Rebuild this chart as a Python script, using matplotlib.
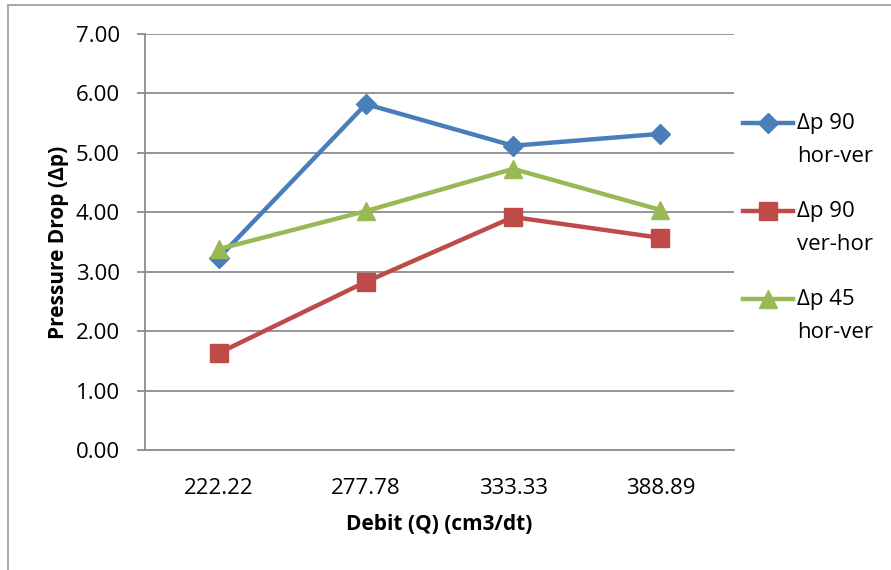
import matplotlib
matplotlib.use("Agg")
import matplotlib.pyplot as plt
from matplotlib.patches import Rectangle
from matplotlib.lines import Line2D

plt.rcParams['font.family'] = ['Open Sans', 'DejaVu Sans']

categories = ["222.22", "277.78", "333.33", "388.89"]
dp90_hor_ver = [3.23, 5.82, 5.12, 5.32]
dp90_ver_hor = [1.63, 2.83, 3.92, 3.57]
dp45_hor_ver = [3.38, 4.02, 4.73, 4.04]
series_labels = [("Δp 90", "hor-ver"), ("Δp 90", "ver-hor"), ("Δp 45", "hor-ver")]
y_ticks = [0, 1, 2, 3, 4, 5, 6, 7]
x_title = "Debit (Q) (cm3/dt)"
y_title = "Pressure Drop (Δp)"

W, H = 891, 570
fig = plt.figure(figsize=(W / 100, H / 100), dpi=100)
ax = fig.add_axes([145 / W, (H - 450) / H, (734 - 145) / W, (450 - 34) / H])

x = list(range(len(categories)))
blue, red, green = "#4A7EBB", "#BE4B48", "#98B954"
styles = [(blue, "D", 10.5), (red, "s", 13), (green, "^", 13)]
series = [dp90_hor_ver, dp90_ver_hor, dp45_hor_ver]
for vals, (c, m, ms) in zip(series, styles):
    ax.plot(x, vals, color=c, lw=3.2, marker=m, ms=ms, mec=c, mfc=c, zorder=3)

ax.set_xlim(-0.5, len(categories) - 0.5)
ax.set_ylim(0, 7)
ax.set_yticks(y_ticks)
ax.set_yticklabels([f"{v:.2f}" for v in y_ticks])
ax.set_xticks(x)
ax.set_xticklabels(categories)

grid_c = "#8C8C8C"
ax.grid(axis="y", color=grid_c, lw=1.3)
ax.set_axisbelow(True)
for s in ["top", "right"]:
    ax.spines[s].set_visible(False)
for s in ["left", "bottom"]:
    ax.spines[s].set_color(grid_c)
    ax.spines[s].set_linewidth(1.3)
ax.tick_params(axis="y", length=6, width=1.3, color=grid_c, labelsize=16, pad=12)
ax.tick_params(axis="x", length=0, labelsize=16, pad=20)

ax.set_xlabel(x_title, fontsize=15, fontweight="bold", labelpad=11)
ax.set_ylabel(y_title, fontsize=15, fontweight="bold", labelpad=5)

# manual legend (Excel style: marker aligned with first text line)
leg_y = [123, 211, 299]
for (c, m, ms), (l1, l2), yy in zip(styles, series_labels, leg_y):
    yf = 1 - yy / H
    fig.add_artist(Line2D([743 / W, 793 / W], [yf, yf], color=c, lw=3.2,
                          transform=fig.transFigure))
    fig.add_artist(Line2D([768 / W], [yf], color=c, marker=m, ms=ms, mec=c, mfc=c,
                          transform=fig.transFigure))
    fig.text(797 / W, yf, l1, fontsize=16, va="center", ha="left")
    fig.text(797 / W, 1 - (yy + 33) / H, l2, fontsize=16, va="center", ha="left")

fig.add_artist(Rectangle((8 / W, -0.05), 1.0, 1 - 5 / H + 0.05, transform=fig.transFigure,
                         fill=False, edgecolor="#A0A0A0", lw=1.3))

fig.savefig("out.png", dpi=100)
